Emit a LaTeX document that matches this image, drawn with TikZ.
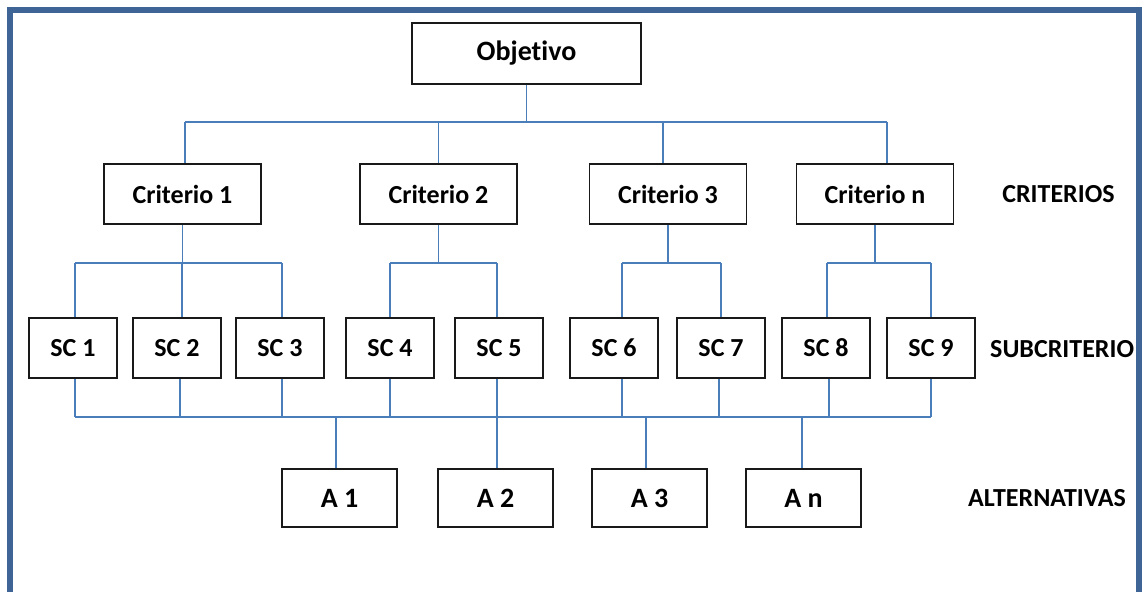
\documentclass[tikz,border=0pt]{standalone}
\usepackage{fontspec}
\setmainfont{Carlito}[Ligatures=NoCommon]
\definecolor{framecol}{HTML}{3F6597}
\definecolor{linecol}{HTML}{4A7EBB}
\tikzset{
  box/.style={draw=black!90, line width=1.4pt, fill=white, inner sep=0pt,
    font=\bfseries\fontsize{26}{30}\selectfont, text=black},
  objbox/.style={box, minimum width=229pt, minimum height=61pt, font=\bfseries\fontsize{28}{32}\selectfont},
  critbox/.style={box, minimum width=157pt, minimum height=60pt},
  scbox/.style={box, minimum width=88pt, minimum height=60pt},
  altbox/.style={box, minimum width=115pt, minimum height=58pt, font=\bfseries\fontsize{28}{32}\selectfont},
  levellabel/.style={inner sep=0pt, font=\bfseries\fontsize{26}{30}\selectfont, text=black},
  conn/.style={draw=linecol, line width=1.6pt},
  frameline/.style={draw=framecol, line width=5.5pt}
}
\begin{document}
\begin{tikzpicture}[x=1pt, y=-1pt]
\useasboundingbox (0,0) rectangle (1142,592);
\draw[frameline] (10,592) -- (10,10) -- (1139,10) -- (1139,592);

% nodes
\node[objbox] (obj) at (526.5,53.5) {Objetivo};

\node[critbox] (c1) at (182.5,194) {Criterio 1};
\node[critbox] (c2) at (438.5,194) {Criterio 2};
\node[critbox] (c3) at (668,194) {Criterio 3};
\node[critbox] (cn) at (875,194) {Criterio n};

\node[scbox] (sc1) at (73,348) {SC 1};
\node[scbox] (sc2) at (177,348) {SC 2};
\node[scbox] (sc3) at (280,348) {SC 3};
\node[scbox] (sc4) at (390,348) {SC 4};
\node[scbox] (sc5) at (499,348) {SC 5};
\node[scbox] (sc6) at (614,348) {SC 6};
\node[scbox] (sc7) at (721,348) {SC 7};
\node[scbox] (sc8) at (826,348) {SC 8};
\node[scbox] (sc9) at (931,348) {SC 9};

\node[altbox] (a1) at (339.5,498) {A 1};
\node[altbox] (a2) at (495.5,498) {A 2};
\node[altbox] (a3) at (649.5,498) {A 3};
\node[altbox] (an) at (803.5,498) {A n};

\node[levellabel] (lcrit) at (1058.5,194) {CRITERIOS};
\node[levellabel, anchor=west] (lsub) at (990,349) {SUBCRITERIO};
\node[levellabel, anchor=west] (lalt) at (968,498) {ALTERNATIVAS};

% bus levels
\coordinate (y1) at (0,122);
\coordinate (y2) at (0,263);
\coordinate (y3) at (0,417);

% objective to criteria
\draw[conn] (obj.south) -- (obj.south |- y1);
\draw[conn] ([xshift=2.5pt]c1.north |- y1) -- ([xshift=12pt]cn.north |- y1);
\draw[conn] ([xshift=2.5pt]c1.north |- y1) -- ([xshift=2.5pt]c1.north);
\draw[conn] (c2.north |- y1) -- (c2.north);
\draw[conn] ([xshift=-5pt]c3.north |- y1) -- ([xshift=-5pt]c3.north);
\draw[conn] ([xshift=12pt]cn.north |- y1) -- ([xshift=12pt]cn.north);

% criteria to subcriteria
\draw[conn] (c1.south) -- (c1.south |- y2);
\draw[conn] ([xshift=2pt]sc1.north |- y2) -- ([xshift=2pt]sc3.north |- y2);
\draw[conn] ([xshift=2pt]sc1.north |- y2) -- ([xshift=2pt]sc1.north);
\draw[conn] ([xshift=5pt]sc2.north |- y2) -- ([xshift=5pt]sc2.north);
\draw[conn] ([xshift=2pt]sc3.north |- y2) -- ([xshift=2pt]sc3.north);

\draw[conn] (c2.south) -- (c2.south |- y2);
\draw[conn] (sc4.north |- y2) -- ([xshift=-2pt]sc5.north |- y2);
\draw[conn] (sc4.north |- y2) -- (sc4.north);
\draw[conn] ([xshift=-2pt]sc5.north |- y2) -- ([xshift=-2pt]sc5.north);

\draw[conn] (c3.south) -- (c3.south |- y2);
\draw[conn] ([xshift=8pt]sc6.north |- y2) -- (sc7.north |- y2);
\draw[conn] ([xshift=8pt]sc6.north |- y2) -- ([xshift=8pt]sc6.north);
\draw[conn] (sc7.north |- y2) -- (sc7.north);

\draw[conn] (cn.south) -- (cn.south |- y2);
\draw[conn] ([xshift=1pt]sc8.north |- y2) -- (sc9.north |- y2);
\draw[conn] ([xshift=1pt]sc8.north |- y2) -- ([xshift=1pt]sc8.north);
\draw[conn] (sc9.north |- y2) -- (sc9.north);

% subcriteria to alternatives
\draw[conn] ([xshift=2pt]sc1.south |- y3) -- (sc9.south |- y3);
\draw[conn] ([xshift=2pt]sc1.south) -- ([xshift=2pt]sc1.south |- y3);
\draw[conn] ([xshift=3pt]sc2.south) -- ([xshift=3pt]sc2.south |- y3);
\draw[conn] ([xshift=2pt]sc3.south) -- ([xshift=2pt]sc3.south |- y3);
\draw[conn] (sc4.south) -- (sc4.south |- y3);
\draw[conn] ([xshift=-2pt]sc5.south) -- ([xshift=-2pt]sc5.south |- y3);
\draw[conn] ([xshift=8pt]sc6.south) -- ([xshift=8pt]sc6.south |- y3);
\draw[conn] ([xshift=-2pt]sc7.south) -- ([xshift=-2pt]sc7.south |- y3);
\draw[conn] ([xshift=3pt]sc8.south) -- ([xshift=3pt]sc8.south |- y3);
\draw[conn] (sc9.south) -- (sc9.south |- y3);

\draw[conn] ([xshift=-3.5pt]a1.north |- y3) -- ([xshift=-3.5pt]a1.north);
\draw[conn] ([xshift=1.5pt]a2.north |- y3) -- ([xshift=1.5pt]a2.north);
\draw[conn] ([xshift=-3.5pt]a3.north |- y3) -- ([xshift=-3.5pt]a3.north);
\draw[conn] ([xshift=-1.5pt]an.north |- y3) -- ([xshift=-1.5pt]an.north);
\end{tikzpicture}
\end{document}
